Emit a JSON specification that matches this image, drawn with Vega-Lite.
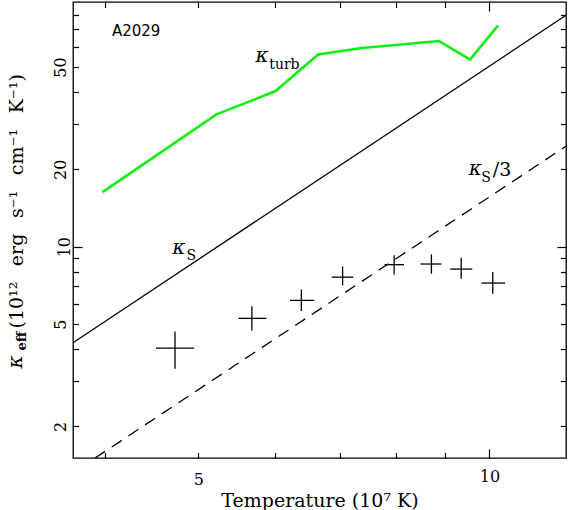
{
  "$schema": "https://vega.github.io/schema/vega-lite/v6.json",
  "width": 493,
  "height": 456,
  "autosize": {"type": "none"},
  "padding": {"left": 73, "top": 2, "right": 2, "bottom": 52},
  "background": "#ffffff",
  "config": {
    "view": {"stroke": "#000000", "strokeWidth": 1.3},
    "font": "DejaVu Serif"
  },
  "datasets": {
    "kturb": [
      {"T": 3.98, "K": 16.3}, {"T": 5.22, "K": 32.7}, {"T": 6.01, "K": 40.3},
      {"T": 6.65, "K": 55.9}, {"T": 7.38, "K": 59.3}, {"T": 8.87, "K": 63.1},
      {"T": 9.55, "K": 53.4}, {"T": 10.21, "K": 72.6}
    ],
    "ks": [{"T": 3.71, "K": 4.23}, {"T": 12.0, "K": 79.5}],
    "ks3": [{"T": 3.91, "K": 1.506}, {"T": 12.0, "K": 24.6}],
    "pts": [
      {"T": 4.73, "Tlo": 4.52, "Thi": 4.95, "K": 4.03, "Klo": 3.35, "Khi": 4.68},
      {"T": 5.68, "Tlo": 5.50, "Thi": 5.88, "K": 5.26, "Klo": 4.72, "Khi": 5.86},
      {"T": 6.39, "Tlo": 6.22, "Thi": 6.59, "K": 6.18, "Klo": 5.62, "Khi": 6.82},
      {"T": 7.05, "Tlo": 6.87, "Thi": 7.23, "K": 7.61, "Klo": 7.07, "Khi": 8.38},
      {"T": 7.97, "Tlo": 7.79, "Thi": 8.16, "K": 8.51, "Klo": 7.80, "Khi": 9.25},
      {"T": 8.71, "Tlo": 8.49, "Thi": 8.92, "K": 8.56, "Klo": 7.85, "Khi": 9.33},
      {"T": 9.35, "Tlo": 9.11, "Thi": 9.60, "K": 8.18, "Klo": 7.51, "Khi": 9.06},
      {"T": 10.08, "Tlo": 9.81, "Thi": 10.38, "K": 7.22, "Klo": 6.56, "Khi": 7.97}
    ],
    "kappas": [
      {"T": 5.73, "K": 52.3, "label": "κ"},
      {"T": 4.70, "K": 9.39, "label": "κ"},
      {"T": 9.52, "K": 18.94, "label": "κ"}
    ],
    "subs": [
      {"T": 5.92, "K": 49.2, "label": "turb"},
      {"T": 4.86, "K": 8.88, "label": "S"},
      {"T": 9.81, "K": 17.8, "label": "S"}
    ],
    "slash": [{"T": 10.08, "K": 18.77, "label": "/3"}],
    "name": [{"T": 4.07, "K": 65.8, "label": "A2029"}]
  },
  "layer": [
    {
      "data": {"name": "kturb"},
      "mark": {"type": "line", "color": "#11ee11", "strokeWidth": 2.6},
      "encoding": {
        "x": {
          "field": "T", "type": "quantitative",
          "scale": {"type": "log", "domain": [3.71, 12.0], "nice": false, "zero": false},
          "axis": {
            "orient": "bottom",
            "values": [4, 5, 6, 7, 8, 9, 10],
            "format": "~g",
            "labelExpr": "(datum.value == 5 || datum.value == 10) ? datum.label : ''",
            "domain": false, "grid": false,
            "tickColor": "#000000", "tickWidth": 1.2,
            "tickSize": {"condition": {"test": "datum.value == 10", "value": -9}, "value": -5.5},
            "labelFont": "DejaVu Serif", "labelFontSize": 16, "labelColor": "#000000",
            "labelPadding": 19, "labelBaseline": "top", "labelAlign": "center",
            "title": "Temperature (10⁷ K)",
            "titleFont": "DejaVu Serif", "titleFontSize": 19, "titleFontWeight": "normal",
            "titleColor": "#000000",
            "titleX": 246.5, "titleY": 48, "titleAlign": "center", "titleBaseline": "alphabetic"
          }
        },
        "y": {
          "field": "K", "type": "quantitative",
          "scale": {"type": "log", "domain": [1.506, 89.5], "nice": false, "zero": false},
          "axis": {
            "orient": "left",
            "values": [2, 3, 4, 5, 6, 7, 8, 9, 10, 20, 30, 40, 50, 60, 70, 80],
            "format": "~g",
            "labelExpr": "(datum.value == 2 || datum.value == 5 || datum.value == 10 || datum.value == 20 || datum.value == 50) ? datum.label : ''",
            "domain": false, "grid": false,
            "tickColor": "#000000", "tickWidth": 1.2,
            "tickSize": {"condition": {"test": "datum.value == 10", "value": -9}, "value": -5.5},
            "labelFont": "DejaVu Serif", "labelFontSize": 16, "labelColor": "#000000",
            "labelAngle": -90, "labelAlign": "center", "labelBaseline": "alphabetic",
            "labelPadding": 13,
            "title": "(10¹² \u2002erg \u2002s⁻¹ \u2002cm⁻¹ \u2002K⁻¹)",
            "titleFont": "DejaVu Serif", "titleFontSize": 19, "titleFontWeight": "normal",
            "titleColor": "#000000", "titleAngle": -90,
            "titleX": -50.5, "titleY": 326, "titleAlign": "left", "titleBaseline": "alphabetic"
          }
        }
      }
    },
    {
      "data": {"name": "ks"},
      "mark": {"type": "line", "color": "#000000", "strokeWidth": 1.3},
      "encoding": {
        "x": {
          "field": "T", "type": "quantitative",
          "scale": {"type": "log", "domain": [3.71, 12.0], "nice": false, "zero": false},
          "axis": {
            "orient": "top",
            "values": [4, 5, 6, 7, 8, 9, 10],
            "labels": false, "domain": false, "grid": false,
            "tickColor": "#000000", "tickWidth": 1.2,
            "tickSize": {"condition": {"test": "datum.value == 10", "value": -9}, "value": -5.5},
            "title": "eff",
            "titleFont": "DejaVu Serif", "titleFontSize": 13, "titleFontWeight": "bold",
            "titleColor": "#000000", "titleAngle": -90,
            "titleX": -48, "titleY": 348, "titleAlign": "left", "titleBaseline": "alphabetic"
          }
        },
        "y": {
          "field": "K", "type": "quantitative",
          "scale": {"type": "log", "domain": [1.506, 89.5], "nice": false, "zero": false},
          "axis": {
            "orient": "right",
            "values": [2, 3, 4, 5, 6, 7, 8, 9, 10, 20, 30, 40, 50, 60, 70, 80],
            "labels": false, "domain": false, "grid": false,
            "tickColor": "#000000", "tickWidth": 1.2,
            "tickSize": {"condition": {"test": "datum.value == 10", "value": -9}, "value": -5.5},
            "title": "κ",
            "titleFont": "DejaVu Serif", "titleFontSize": 20, "titleFontWeight": "normal",
            "titleFontStyle": "italic",
            "titleColor": "#000000", "titleAngle": -90,
            "titleX": -544.5, "titleY": 366, "titleAlign": "left", "titleBaseline": "alphabetic"
          }
        }
      }
    },
    {
      "data": {"name": "ks3"},
      "mark": {"type": "line", "color": "#000000", "strokeWidth": 1.3, "strokeDash": [12, 8]},
      "encoding": {
        "x": {"field": "T", "type": "quantitative", "scale": {"type": "log", "domain": [3.71, 12.0], "nice": false, "zero": false}, "axis": null},
        "y": {"field": "K", "type": "quantitative", "scale": {"type": "log", "domain": [1.506, 89.5], "nice": false, "zero": false}, "axis": null}
      }
    },
    {
      "data": {"name": "pts"},
      "mark": {"type": "rule", "color": "#000000", "strokeWidth": 1.3},
      "encoding": {
        "x": {"field": "Tlo", "type": "quantitative", "scale": {"type": "log", "domain": [3.71, 12.0], "nice": false, "zero": false}, "axis": null},
        "x2": {"field": "Thi"},
        "y": {"field": "K", "type": "quantitative", "scale": {"type": "log", "domain": [1.506, 89.5], "nice": false, "zero": false}, "axis": null}
      }
    },
    {
      "data": {"name": "pts"},
      "mark": {"type": "rule", "color": "#000000", "strokeWidth": 1.3},
      "encoding": {
        "x": {"field": "T", "type": "quantitative", "scale": {"type": "log", "domain": [3.71, 12.0], "nice": false, "zero": false}, "axis": null},
        "y": {"field": "Klo", "type": "quantitative", "scale": {"type": "log", "domain": [1.506, 89.5], "nice": false, "zero": false}, "axis": null},
        "y2": {"field": "Khi"}
      }
    },
    {
      "data": {"name": "kappas"},
      "mark": {"type": "text", "font": "DejaVu Serif", "fontSize": 20, "fontStyle": "italic", "align": "left", "baseline": "alphabetic", "color": "#000000"},
      "encoding": {
        "x": {"field": "T", "type": "quantitative", "scale": {"type": "log", "domain": [3.71, 12.0], "nice": false, "zero": false}, "axis": null},
        "y": {"field": "K", "type": "quantitative", "scale": {"type": "log", "domain": [1.506, 89.5], "nice": false, "zero": false}, "axis": null},
        "text": {"field": "label"}
      }
    },
    {
      "data": {"name": "subs"},
      "mark": {"type": "text", "font": "DejaVu Serif", "fontSize": 14, "align": "left", "baseline": "alphabetic", "color": "#000000"},
      "encoding": {
        "x": {"field": "T", "type": "quantitative", "scale": {"type": "log", "domain": [3.71, 12.0], "nice": false, "zero": false}, "axis": null},
        "y": {"field": "K", "type": "quantitative", "scale": {"type": "log", "domain": [1.506, 89.5], "nice": false, "zero": false}, "axis": null},
        "text": {"field": "label"}
      }
    },
    {
      "data": {"name": "slash"},
      "mark": {"type": "text", "font": "DejaVu Serif", "fontSize": 19, "align": "left", "baseline": "alphabetic", "color": "#000000"},
      "encoding": {
        "x": {"field": "T", "type": "quantitative", "scale": {"type": "log", "domain": [3.71, 12.0], "nice": false, "zero": false}, "axis": null},
        "y": {"field": "K", "type": "quantitative", "scale": {"type": "log", "domain": [1.506, 89.5], "nice": false, "zero": false}, "axis": null},
        "text": {"field": "label"}
      }
    },
    {
      "data": {"name": "name"},
      "mark": {"type": "text", "font": "DejaVu Sans", "fontSize": 15, "align": "left", "baseline": "alphabetic", "color": "#000000"},
      "encoding": {
        "x": {"field": "T", "type": "quantitative", "scale": {"type": "log", "domain": [3.71, 12.0], "nice": false, "zero": false}, "axis": null},
        "y": {"field": "K", "type": "quantitative", "scale": {"type": "log", "domain": [1.506, 89.5], "nice": false, "zero": false}, "axis": null},
        "text": {"field": "label"}
      }
    }
  ],
  "resolve": {"axis": {"x": "independent", "y": "independent"}}
}
